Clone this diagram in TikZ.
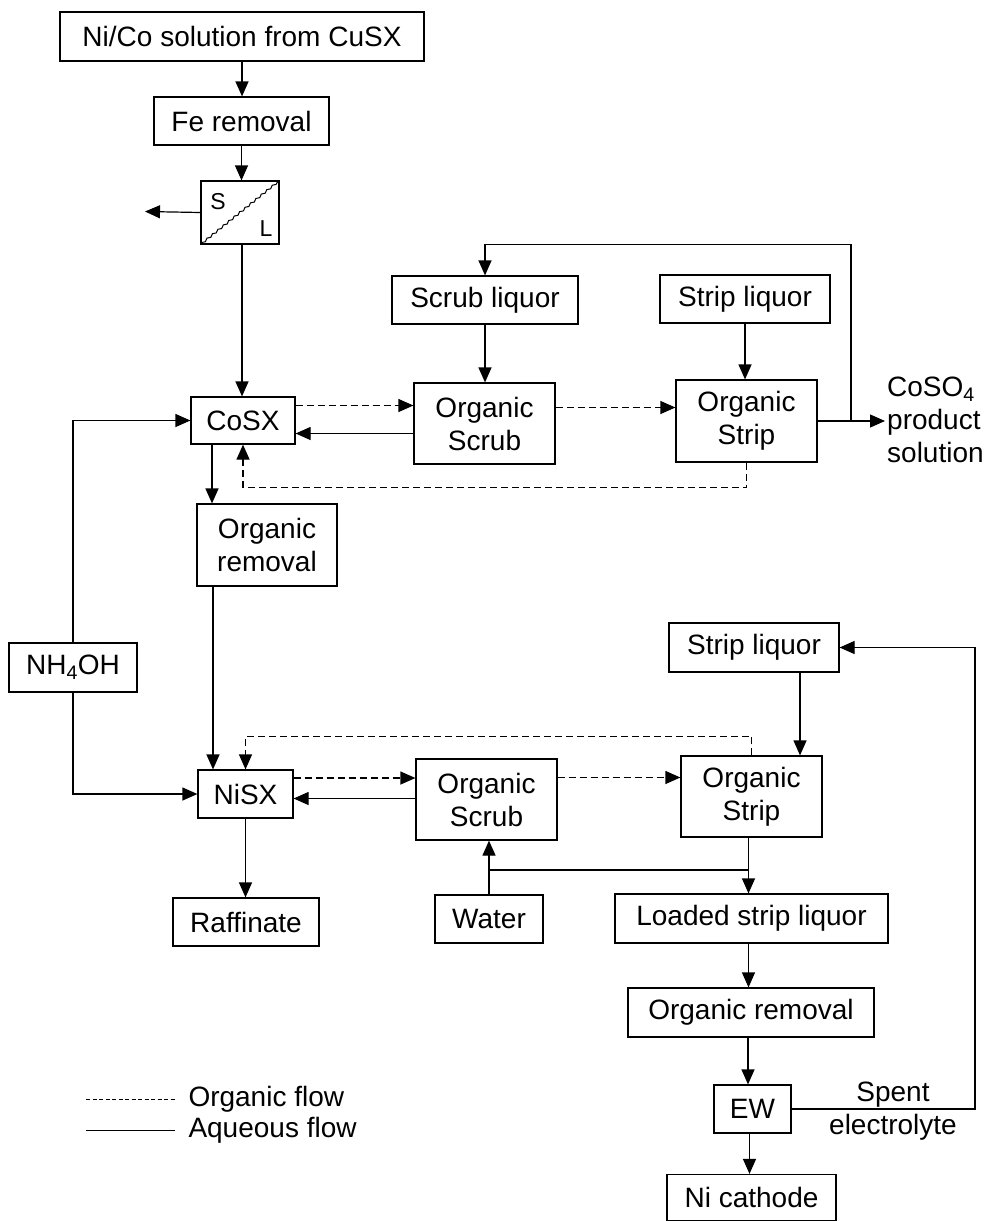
\documentclass[tikz,border=0pt]{standalone}
\usepackage{fontspec}
\setmainfont{Liberation Sans}
\usetikzlibrary{arrows.meta,decorations.pathmorphing}

\tikzset{
  box/.style={draw, line width=1.2pt, inner sep=0pt, align=center},
  aq/.style={line width=1.2pt, -{Triangle[length=15pt,width=13pt]}},
  org/.style={aq, dash pattern=on 7pt off 4pt},
  legline/.style={line width=1pt},
}

\begin{document}
\begin{tikzpicture}[x=1pt,y=-1pt,font=\fontsize{28}{33}\selectfont]
\useasboundingbox (0,0) rectangle (991,1221);

% feed and iron removal
\node[box, minimum width=364, minimum height=49] (feed) at (242,36.5) {Ni/Co solution from CuSX};
\node[box, minimum width=175, minimum height=48] (feremoval) at (241.5,121) {Fe removal};
\node[box, minimum width=78, minimum height=63] (sl) at (240,212.5) {};
\node[font=\fontsize{23}{24}\selectfont] (sls) at (218,202) {S};
\node[font=\fontsize{23}{24}\selectfont] (sll) at (266,229) {L};
\draw[line width=1pt, decorate, decoration={snake, amplitude=0.9pt, segment length=7pt}] (sl.south west) -- (sl.north east);
\coordinate (solids) at (145,211.5);

\draw[aq] (feed.south) -- (feed.south |- feremoval.north);
\draw[aq] (feremoval.south) -- (feremoval.south |- sl.north);
\draw[aq] (sl.west) -- (solids);

% cobalt circuit
\begin{scope}
\node[box, minimum width=104, minimum height=47] (cosx) at (243,420.5) {CoSX};
\node[box, minimum width=186, minimum height=48] (scrubliq) at (485,300) {Scrub liquor};
\node[box, minimum width=170, minimum height=48] (stripliq) at (745,299) {Strip liquor};
\node[box, minimum width=141, minimum height=81] (coscrub) at (484.5,423.5) {Organic\\Scrub};
\node[box, minimum width=141, minimum height=82] (costrip) at (746.5,421) {Organic\\Strip};
\node[box, minimum width=140, minimum height=82] (orgrem) at (267,545) {Organic\\removal};
\node[anchor=west, inner sep=0pt, align=left] (product) at (887,420) {CoSO\textsubscript{4}\\product\\solution};
\coordinate (cosprod) at (885,421);
\coordinate (tee) at (851,421);

\draw[aq] ([xshift=2pt]sl.south) -- ([xshift=2pt]sl.south |- cosx.north);
\draw[aq] (scrubliq.south) -- (scrubliq.south |- coscrub.north);
\draw[aq] (stripliq.south) -- (stripliq.south |- costrip.north);
\draw[org] ([yshift=15pt]cosx.east) -- ([yshift=15pt]cosx.east -| coscrub.west);
\draw[aq] ([yshift=-10pt]coscrub.west) -- ([yshift=-10pt]coscrub.west -| cosx.east);
\draw[org] ([yshift=16pt]coscrub.east) -- ([yshift=16pt]coscrub.east -| costrip.west);
\draw[aq] (costrip.east) -- (cosprod);
\draw[aq] (tee) |- ([yshift=31pt]scrubliq.north) -- (scrubliq.north);
\draw[org] (costrip.south) -- ++(0,25) -| (cosx.south);
\draw[aq] ([xshift=-31pt]cosx.south) -- ([xshift=-31pt]cosx.south |- orgrem.north);
\end{scope}

% nickel circuit
\begin{scope}
\node[box, minimum width=128, minimum height=49] (nh) at (73,667.5) {NH\textsubscript{4}OH};
\node[box, minimum width=95, minimum height=48] (nisx) at (245.5,794) {NiSX};
\node[box, minimum width=170, minimum height=49] (stripliqb) at (754,647.5) {Strip liquor};
\node[box, minimum width=141, minimum height=81] (niscrub) at (486.5,799.5) {Organic\\Scrub};
\node[box, minimum width=141, minimum height=81] (nistrip) at (751.5,796.5) {Organic\\Strip};
\node[box, minimum width=146, minimum height=48] (raff) at (246,922) {Raffinate};
\node[box, minimum width=108, minimum height=48] (water) at (489,919) {Water};
\node[box, minimum width=273, minimum height=49] (loaded) at (751.5,918.5) {Loaded strip liquor};
\node[box, minimum width=246, minimum height=49] (orgremb) at (751,1012.5) {Organic removal};
\node[box, minimum width=77, minimum height=48] (ew) at (752.5,1109) {EW};
\node[box, minimum width=169, minimum height=46] (cathode) at (751.5,1197.5) {Ni cathode};
\node[align=center, inner sep=0pt] (spent) at (893,1111) {Spent\\electrolyte};
\coordinate (ret) at (975,0);
\coordinate (split) at (748,870);

\draw[aq] ([xshift=-54pt]orgrem.south) -- ([xshift=-54pt]orgrem.south |- nisx.north);
\draw[aq] (nh.north) |- (cosx.west);
\draw[aq] (nh.south) |- (nisx.west);
\draw[org] (nistrip.north) -- ++(0,-19) -| (nisx.north);
\draw[aq] ([xshift=46pt]stripliqb.south) -- ([xshift=46pt]stripliqb.south |- nistrip.north);
\draw[org] ([yshift=16pt]nisx.east) -- ([yshift=16pt]nisx.east -| niscrub.west);
\draw[aq] ([yshift=1pt]niscrub.west) -- ([yshift=1pt]niscrub.west -| nisx.east);
\draw[org] ([yshift=22pt]niscrub.east) -- ([yshift=22pt]niscrub.east -| nistrip.west);
\draw[aq] (nisx.south) -- (nisx.south |- raff.north);
\draw[aq] ([xshift=-3pt]nistrip.south) -- ([xshift=-3pt]nistrip.south |- loaded.north);
\draw[line width=1.2pt] (split) -- (split -| water.north);
\draw[aq] (water.north) -- (water.north |- niscrub.south);
\draw[aq] ([xshift=-3pt]loaded.south) -- ([xshift=-3pt]loaded.south |- orgremb.north);
\draw[aq] ([xshift=-3pt]orgremb.south) -- ([xshift=-3pt]orgremb.south |- ew.north);
\draw[aq] ([xshift=-3pt]ew.south) -- ([xshift=-3pt]ew.south |- cathode.north);
\draw[aq] (ew.east) -| (ret |- stripliqb.east) -- (stripliqb.east);
\end{scope}

% legend
\coordinate (legorg) at (86,1099);
\coordinate (legaq) at (86,1130);
\draw[legline, dash pattern=on 4pt off 2.5pt] (legorg) -- ++(89,0) node[anchor=west, inner sep=0pt, xshift=13pt] (legorgtext) {Organic flow};
\draw[legline] (legaq) -- ++(89,0) node[anchor=west, inner sep=0pt, xshift=13pt] (legaqtext) {Aqueous flow};

\end{tikzpicture}
\end{document}
